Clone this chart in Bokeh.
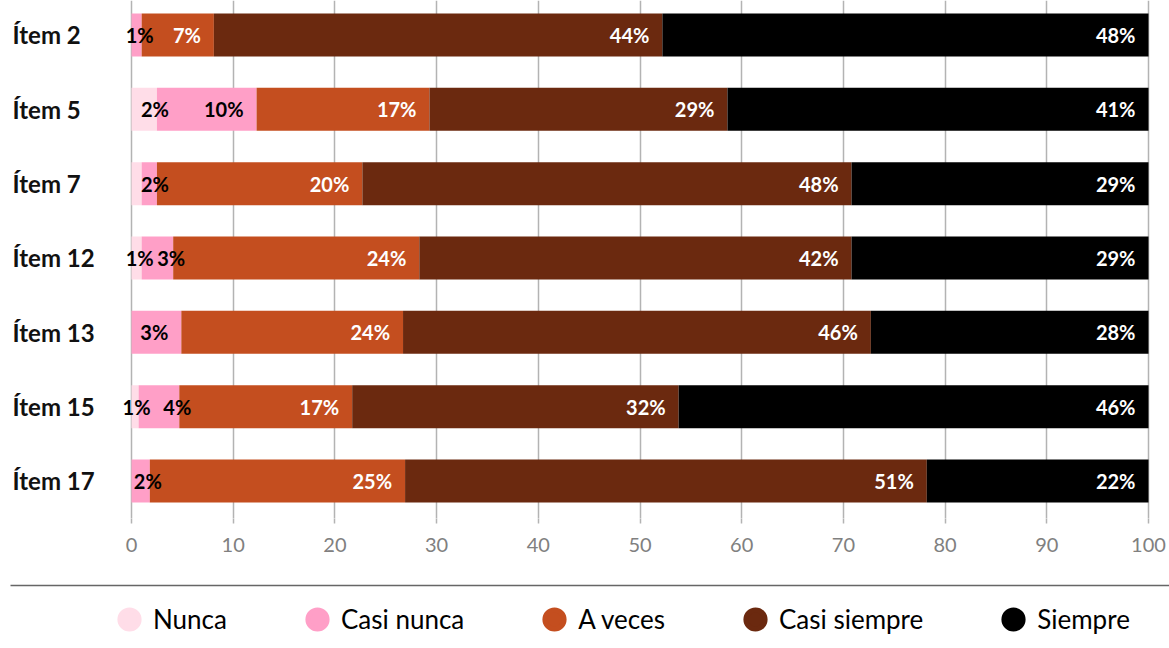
from bokeh.plotting import figure
from bokeh.models import ColumnDataSource, Range1d, FixedTicker, Legend, LegendItem
from bokeh.layouts import column
from bokeh.core.properties import value, field
from bokeh.embed import file_html
from bokeh.resources import INLINE

# ---------------- data ----------------
items = ["Ítem 2", "Ítem 5", "Ítem 7", "Ítem 12", "Ítem 13", "Ítem 15", "Ítem 17"]
series_names = ["Nunca", "Casi nunca", "A veces", "Casi siempre", "Siempre"]
nunca = [0.0, 2.5, 1.0, 1.0, 0.0, 0.7, 0.0]
casi_nunca = [1.0, 9.8, 1.5, 3.1, 4.9, 4.0, 1.8]
a_veces = [7.1, 17.0, 20.2, 24.2, 21.8, 17.0, 25.1]
casi_siempre = [44.1, 29.3, 48.1, 42.5, 46.0, 32.1, 51.3]
siempre = [47.8, 41.4, 29.2, 29.2, 27.3, 46.2, 21.8]
nunca_lbl = ["", "2%", "1%", "1%", "", "1%", ""]
casi_nunca_lbl = ["1%", "10%", "2%", "3%", "3%", "4%", "2%"]
a_veces_lbl = ["7%", "17%", "20%", "24%", "24%", "17%", "25%"]
casi_siempre_lbl = ["44%", "29%", "48%", "42%", "46%", "32%", "51%"]
siempre_lbl = ["48%", "41%", "29%", "29%", "28%", "46%", "22%"]
x_ticks = [0, 10, 20, 30, 40, 50, 60, 70, 80, 90, 100]

colors = ["#FFDDE8", "#FF9FC7", "#C44E1F", "#6B290F", "#000000"]
label_colors = ["#000000", "#000000", "#FFFFFF", "#FFFFFF", "#FFFFFF"]
FONT = "Lato"

values = [nunca, casi_nunca, a_veces, casi_siempre, siempre]
labels = [nunca_lbl, casi_nunca_lbl, a_veces_lbl, casi_siempre_lbl, siempre_lbl]

n = len(items)
ypos = [n - 1 - i for i in range(n)]

W = 1169
LEFT, RIGHT = 131, 21          # pixel space left of 0 and right of 100
PX = (W - LEFT - RIGHT) / 100.0
XMIN = -LEFT / PX
XMAX = 100 + RIGHT / PX

src = ColumnDataSource(dict(y=ypos, item=items,
                            **{s: v for s, v in zip(series_names, values)}))

p = figure(width=W, height=570, output_backend="svg", toolbar_location=None,
           x_range=Range1d(XMIN, XMAX), y_range=Range1d(-0.5045, 6.464),
           min_border_left=0, min_border_right=0, min_border_top=0,
           min_border_bottom=52)
p.outline_line_color = None
p.background_fill_color = "white"
p.border_fill_color = "white"

p.hbar_stack(series_names, y="y", height=0.578, color=colors, source=src,
             line_color=None)

# value labels
lx, ly, lt, la, lo, lc = [], [], [], [], [], []
for i in range(n):
    start = 0.0
    row = []
    for k in range(5):
        v = values[k][i]
        end = start + v
        t = labels[k][i]
        if t:
            ndig = len(t) - 1
            w = 11 * ndig + 17
            seg = v * PX
            if seg >= w + 18:
                right = end * PX - 13
                row.append([end, -13, "right", t, label_colors[k], right - w, right])
            else:
                c = end * PX - 2
                row.append([end, -2, "center", t, label_colors[k], c - w / 2, c + w / 2])
        start = end
    keep = []
    for j, r in enumerate(row):
        if j + 1 < len(row) and r[6] > row[j + 1][5]:
            continue
        keep.append(r)
    for r in keep:
        lx.append(r[0]); ly.append(ypos[i]); lo.append(r[1]); la.append(r[2])
        lt.append(r[3]); lc.append(r[4])

lsrc = ColumnDataSource(dict(x=lx, y=ly, t=lt, a=la, o=lo, c=lc))
p.text(x="x", y="y", text="t", source=lsrc, text_align=field("a"), x_offset=field("o"),
       text_baseline="middle", text_color=field("c"), text_font=value(FONT),
       text_font_size="20px", text_font_style="bold")

# category labels
csrc = ColumnDataSource(dict(x=[XMIN] * n, y=ypos, t=items))
p.text(x="x", y="y", text="t", source=csrc, x_offset=12, text_align="left",
       text_baseline="middle", text_font=value(FONT), text_font_size="24px",
       text_font_style="bold", text_color="#111111")

p.yaxis.visible = False
p.ygrid.grid_line_color = None
p.xaxis.ticker = FixedTicker(ticks=x_ticks)
p.xgrid.ticker = FixedTicker(ticks=x_ticks)
p.xgrid.grid_line_color = "#b3b3b3"
p.xgrid.grid_line_width = 1.5
p.xaxis.axis_line_color = None
p.xaxis.major_tick_line_color = "#b3b3b3"
p.xaxis.major_tick_line_width = 1.5
p.xaxis.major_tick_out = 5
p.xaxis.major_tick_in = 0
p.xaxis.minor_tick_line_color = None
p.xaxis.major_label_standoff = 14
p.xaxis.major_label_text_font = FONT
p.xaxis.major_label_text_font_size = "20px"
p.xaxis.major_label_text_color = "#808080"

# ---------------- legend figure ----------------
LH = 78
q = figure(width=W, height=LH, output_backend="svg", toolbar_location=None,
           x_range=Range1d(0, W), y_range=Range1d(0, LH),
           min_border_left=0, min_border_right=0, min_border_top=0, min_border_bottom=0)
q.outline_line_color = None
q.axis.visible = False
q.grid.visible = False
q.border_fill_color = "white"
q.segment(x0=[10], y0=[LH - 15], x1=[W], y1=[LH - 15], line_color="#666666", line_width=1.5)

legend_items = []
for name, col in zip(series_names, colors):
    r = q.scatter(x=[-100], y=[-100], marker="circle", size=20, fill_color=col,
                  line_color=col, line_width=5)
    legend_items.append(LegendItem(label=name, renderers=[r]))
leg = Legend(items=legend_items, orientation="horizontal", location=(105, 5),
             glyph_width=48, glyph_height=48, label_standoff=0, spacing=66,
             padding=0, margin=0, border_line_color=None, background_fill_alpha=0,
             label_text_font=FONT, label_text_font_size="26px", label_text_color="#000000")
q.add_layout(leg)

layout = column(p, q, spacing=0)
open("out.html", "w").write(file_html(layout, INLINE))
